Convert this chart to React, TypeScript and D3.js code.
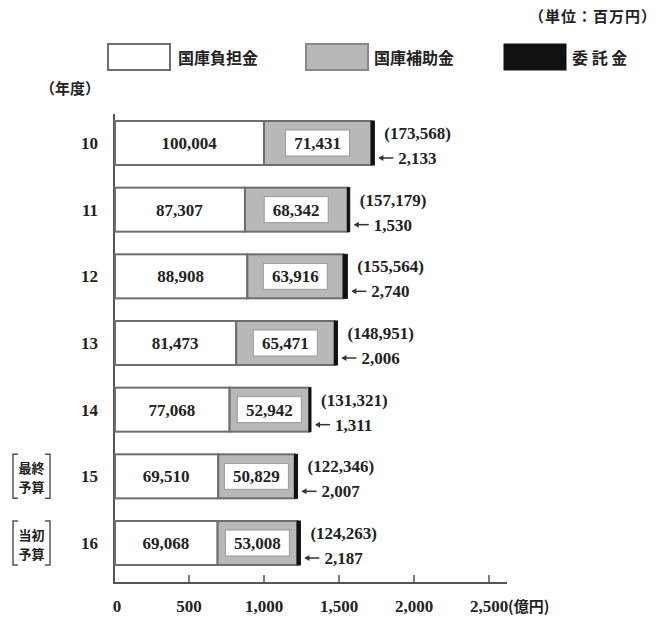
import React from 'react';
import * as d3 from 'd3';

const years = ['10', '11', '12', '13', '14', '15', '16'];
const futankin = [100004, 87307, 88908, 81473, 77068, 69510, 69068];
const hojokin = [71431, 68342, 63916, 65471, 52942, 50829, 53008];
const itakukin = [2133, 1530, 2740, 2006, 1311, 2007, 2187];
const totals = [173568, 157179, 155564, 148951, 131321, 122346, 124263];
const tickValues = [0, 500, 1000, 1500, 2000, 2500];
const yearNotes: Record<string, [string, string]> = { '15': ['最終', '予算'], '16': ['当初', '予算'] };
const legendLabels = ['国庫負担金', '国庫補助金', '委 託 金'];

const W = 664;
const H = 619;
const NUM_FONT = '"Liberation Serif", "DejaVu Serif", serif';
const CJK_FONT = '"Noto Sans CJK JP", sans-serif';

const fmt = d3.format(',');

export default function App() {
  const x = d3.scaleLinear().domain([0, 2500]).range([114, 489]);
  const y = d3.scalePoint<string>().domain(years).range([143, 543]);
  const barH = 44;
  const axisY = 583;

  const rows = years.map((yr, i) => {
    const a = futankin[i] / 100;
    const b = hojokin[i] / 100;
    const c = itakukin[i] / 100;
    return { yr, i, x0: x(0), x1: x(a), x2: x(a + b), x3: x(a + b + c) };
  });

  const stroke = '#6e6e6e';
  const txt = '#222';

  return (
    <svg width={W} height={H} style={{ position: 'absolute', left: 0, top: 0, background: '#fff' }}>
      {/* unit */}
      <text x={657} y={22} textAnchor="end" fontFamily={CJK_FONT} fontWeight={700} fontSize={15} letterSpacing={1} fill={txt}>（単位：百万円）</text>
      {/* legend */}
      <rect x={108} y={44} width={62} height={26} fill="#fff" stroke={stroke} strokeWidth={2} />
      <text x={178} y={64} fontFamily={CJK_FONT} fontWeight={700} fontSize={16} fill={txt}>{legendLabels[0]}</text>
      <rect x={306} y={44} width={62} height={26} fill="#b8b8b8" stroke="#888" strokeWidth={2} />
      <text x={374} y={64} fontFamily={CJK_FONT} fontWeight={700} fontSize={16} fill={txt}>{legendLabels[1]}</text>
      <rect x={504} y={44} width={62} height={26} fill="#111" stroke="#111" strokeWidth={1} />
      <text x={572} y={64} fontFamily={CJK_FONT} fontWeight={700} fontSize={16} fill={txt} xmlSpace="preserve">{legendLabels[2]}</text>
      <text x={40} y={94} fontFamily={CJK_FONT} fontWeight={700} fontSize={15} fill={txt}>（年度）</text>

      {/* axes */}
      <line x1={114} x2={114} y1={114} y2={axisY} stroke="#555" strokeWidth={2} />
      <line x1={113} x2={507} y1={axisY} y2={axisY} stroke="#555" strokeWidth={2} />
      {tickValues.map((t) => (
        <g key={t}>
          {t > 0 && <line x1={x(t)} x2={x(t)} y1={axisY} y2={axisY - 8} stroke="#555" strokeWidth={1.5} />}
          <text x={x(t) + (t === 0 ? 3 : 0)} y={612} textAnchor="middle" fontFamily={NUM_FONT} fontWeight={700} fontSize={17} fill={txt}>{fmt(t)}</text>
        </g>
      ))}
      <text x={x(2500) + 19} y={612} fontFamily={CJK_FONT} fontWeight={700} fontSize={15} fill={txt}>(億円)</text>

      {rows.map((r) => {
        const cy = y(r.yr)!;
        const top = cy - barH / 2;
        const hojo = fmt(hojokin[r.i]);
        const boxW = Math.min(64, r.x2 - r.x1 - 10);
        const midG = (r.x1 + r.x2) / 2;
        const note = yearNotes[r.yr];
        return (
          <g key={r.yr}>
            <text x={98} y={cy + 6} textAnchor="end" fontFamily={NUM_FONT} fontWeight={700} fontSize={17} fill={txt}>{r.yr}</text>
            {note && (
              <g>
                <path d={`M18,${cy - 22} h-5 v44 h5`} fill="none" stroke="#555" strokeWidth={1.5} />
                <path d={`M45,${cy - 22} h5 v44 h-5`} fill="none" stroke="#555" strokeWidth={1.5} />
                <text x={31.5} y={cy - 3} textAnchor="middle" fontFamily={CJK_FONT} fontWeight={700} fontSize={13} fill={txt}>{note[0]}</text>
                <text x={31.5} y={cy + 16} textAnchor="middle" fontFamily={CJK_FONT} fontWeight={700} fontSize={13} fill={txt}>{note[1]}</text>
              </g>
            )}
            <rect x={r.x0 + 1} y={top} width={r.x1 - r.x0 - 1} height={barH} fill="#fff" stroke={stroke} strokeWidth={2} />
            <rect x={r.x1} y={top} width={r.x2 - r.x1} height={barH} fill="#b8b8b8" stroke={stroke} strokeWidth={2} />
            <rect x={r.x2} y={top} width={r.x3 - r.x2} height={barH} fill="#111" stroke="#111" strokeWidth={1} />
            <text x={(r.x0 + r.x1) / 2} y={cy + 6} textAnchor="middle" fontFamily={NUM_FONT} fontWeight={700} fontSize={17} fill={txt}>{fmt(futankin[r.i])}</text>
            <rect x={midG - boxW / 2} y={cy - 13} width={boxW} height={26} fill="#fff" stroke="#999" strokeWidth={1} />
            <text x={midG} y={cy + 6} textAnchor="middle" fontFamily={NUM_FONT} fontWeight={700} fontSize={boxW < 60 ? 16 : 17} fill={txt}>{hojo}</text>
            <text x={r.x3 + 10} y={cy - 4} fontFamily={NUM_FONT} fontWeight={700} fontSize={17} fill={txt}>({fmt(totals[r.i])})</text>
            <line x1={r.x3 + 5} x2={r.x3 + 19} y1={cy + 15} y2={cy + 15} stroke="#333" strokeWidth={1.5} />
            <path d={`M${r.x3 + 4},${cy + 15} l5,-3 l0,6 z`} fill="#333" />
            <text x={r.x3 + 24} y={cy + 21} fontFamily={NUM_FONT} fontWeight={700} fontSize={17} fill={txt}>{fmt(itakukin[r.i])}</text>
          </g>
        );
      })}
    </svg>
  );
}
